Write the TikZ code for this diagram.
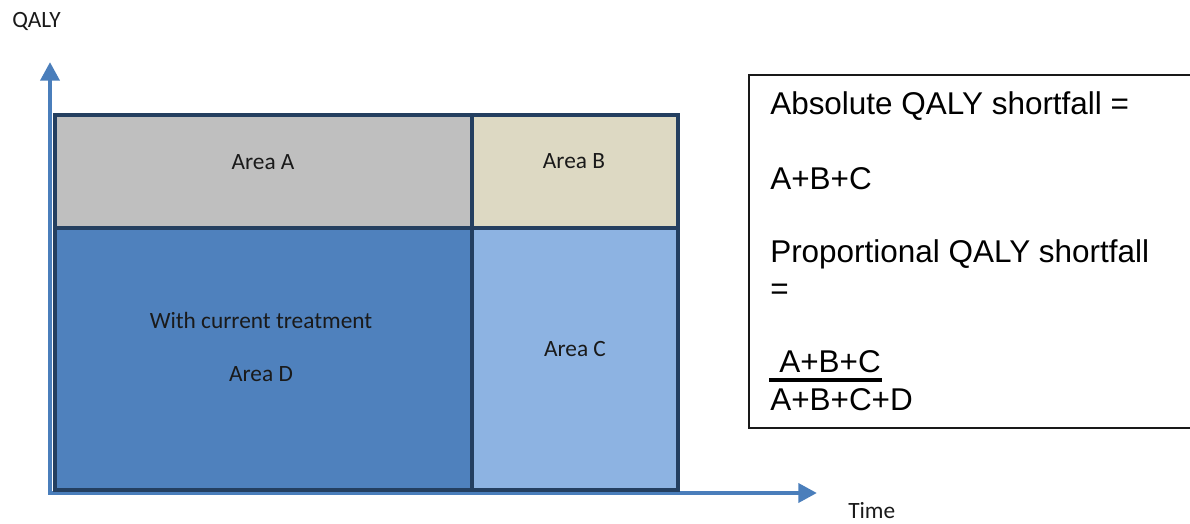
\documentclass[tikz,border=0pt]{standalone}
\usepackage{fontspec}
\setmainfont{Carlito}
\newfontfamily\arialf{Liberation Sans}
\usetikzlibrary{arrows.meta}
\definecolor{axisblue}{HTML}{4A7EBB}
\definecolor{gridline}{HTML}{243F60}
\definecolor{areaA}{HTML}{BFBFBF}
\definecolor{areaB}{HTML}{DDD9C3}
\definecolor{areaC}{HTML}{8DB3E2}
\definecolor{areaD}{HTML}{4F81BD}
\definecolor{lbltext}{HTML}{1A1A1A}
\begin{document}
\begin{tikzpicture}[x=0.75pt,y=-0.75pt,
  lbl/.style={font=\fontsize{17.5}{21}\selectfont, text=lbltext, inner sep=0pt, anchor=base},
  frm/.style={font=\arialf\fontsize{23.6}{28}\selectfont, inner sep=0pt, anchor=base west},
  axisline/.style={draw=axisblue, line width=3.4pt,
    {Triangle[length=14pt,width=14pt]}-{Triangle[length=14pt,width=14pt]}},
  gridstroke/.style={draw=gridline, line width=3pt},
  framebox/.style={draw=black!90, line width=1.2pt},
]
\useasboundingbox (0,0) rectangle (1190,524);
\clip (0,0) rectangle (1190,524);
% axes
\coordinate (ytip) at (50,62);
\coordinate (origin) at (50,493);
\coordinate (xtip) at (817,493);
\draw[axisline] (ytip) -- (origin) -- (xtip);
% areas
\fill[areaA] (55,115) rectangle (472,228);
\fill[areaB] (472,115) rectangle (678,228);
\fill[areaD] (55,228) rectangle (472,490);
\fill[areaC] (472,228) rectangle (678,490);
\draw[gridstroke] (55,115) rectangle (678,490);
\draw[gridstroke] (472,115) -- (472,490);
\draw[gridstroke] (55,228) -- (678,228);
% area labels
\node[lbl] (la) at (263,170) {Area A};
\node[lbl] (lb) at (574,169) {Area B};
\node[lbl] (lcur) at (261,329) {With current treatment};
\node[lbl] (ld) at (261,382) {Area D};
\node[lbl] (lc) at (575,356) {Area C};
% axis labels
\node[lbl, anchor=base west] (qaly) at (12,28) {QALY};
\node[lbl, anchor=base west] (time) at (848,518) {Time};
% formula box
\draw[framebox] (1195,75) -- (749,75) -- (749,428) -- (1195,428);
\node[frm] (abs) at (770,115) {Absolute QALY shortfall =};
\node[frm] (absf) at (770,190) {A+B+C};
\node[frm] (prop) at (770,263) {Proportional QALY shortfall};
\node[frm] (eq) at (770,300) {=};
\node[frm] (num) at (779,373) {A+B+C};
\node[frm] (den) at (770,410) {A+B+C+D};
\coordinate (ulstart) at (769,380);
\coordinate (ulend) at (882,380);
\draw[line width=2.6pt] (ulstart) -- (ulend);
\end{tikzpicture}
\end{document}
